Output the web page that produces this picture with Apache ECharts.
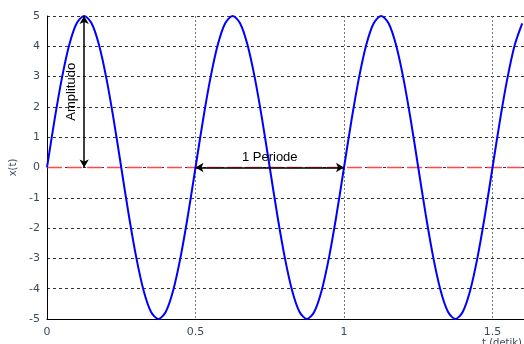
<!DOCTYPE html>
<html><head><meta charset="utf-8">
<script src="https://cdn.jsdelivr.net/npm/echarts@6/dist/echarts.min.js"></script>
<style>html,body{margin:0;padding:0;background:#fff}#c{width:524px;height:344px}</style>
</head><body><div id="c"></div>
<script>
// sample times (s), step 0.025
const times = [];
for (let k = 0; k <= 64; k++) times.push(+(k * 0.025).toFixed(3));
// x(t) values at each sample time
const xValues = [
  0, 1.55, 2.94, 4.05, 4.76, 5, 4.76, 4.05, 2.94, 1.55,
  0, -1.55, -2.94, -4.05, -4.76, -5, -4.76, -4.05, -2.94, -1.55,
  0, 1.55, 2.94, 4.05, 4.76, 5, 4.76, 4.05, 2.94, 1.55,
  0, -1.55, -2.94, -4.05, -4.76, -5, -4.76, -4.05, -2.94, -1.55,
  0, 1.55, 2.94, 4.05, 4.76, 5, 4.76, 4.05, 2.94, 1.55,
  0, -1.55, -2.94, -4.05, -4.76, -5, -4.76, -4.05, -2.94, -1.55,
  0, 1.55, 2.94, 4.05, 4.76
];
const xTicks = [0, 0.5, 1, 1.5];
const yTicks = [-5, -4, -3, -2, -1, 0, 1, 2, 3, 4, 5];
const tMin = 0, tMax = 1.606;
const zeroLine = [[tMin, 0], [tMax, 0]];
const amplitudeArrow = [[0.125, 0], [0.125, 5]];
const periodArrow = [[0.5, 0], [1, 0]];
const amplitudeText = 'Amplitudo';
const periodText = '1 Periode';

const chart = echarts.init(document.getElementById('c'), null, {renderer: 'canvas'});
const fontFam = 'DejaVu Sans, Verdana, sans-serif';
const annFont = 'Liberation Sans, Arial, sans-serif';
chart.setOption({
  animation: false,
  grid: {left: 47, top: 16, right: 0, bottom: 25, containLabel: false, outerBoundsMode: 'none'},
  xAxis: {
    type: 'value', min: tMin, max: tMax, interval: 0.5,
    name: 't (detik)', nameLocation: 'end', nameGap: -2,
    nameTextStyle: {color: '#3a4a5a', fontSize: 10, fontFamily: fontFam, align: 'right', verticalAlign: 'top', padding: [19, 0, 0, 0]},
    axisLine: {show: true, onZero: false, lineStyle: {color: '#000', width: 1}},
    axisTick: {show: false},
    axisLabel: {color: '#3a4a5a', fontSize: 11, fontFamily: fontFam, margin: 8, showMaxLabel: false,
      formatter: v => xTicks.includes(v) ? String(v) : ''},
    splitLine: {show: true, lineStyle: {color: '#777', type: [2, 2], width: 1}}
  },
  yAxis: {
    type: 'value', min: -5, max: 5, interval: 1,
    name: 'x(t)', nameLocation: 'middle', nameGap: 28, nameRotate: 90,
    nameTextStyle: {color: '#3a4a5a', fontSize: 10, fontFamily: fontFam},
    axisLine: {show: true, onZero: false, lineStyle: {color: '#000', width: 1}},
    axisTick: {show: false},
    axisLabel: {color: '#3a4a5a', fontSize: 11, fontFamily: fontFam, margin: 7,
      formatter: v => yTicks.includes(v) ? String(v) : ''},
    splitLine: {show: true, lineStyle: {color: '#333', type: [3, 3], width: 1}}
  },
  series: [
    {
      type: 'line', data: zeroLine, z: 2, showSymbol: false, silent: true,
      color: '#ff4a4a',
      lineStyle: {color: '#ff4a4a', type: [15, 5], width: 1.3}
    },
    {
      type: 'line', data: times.map((t, i) => [t, xValues[i]]),
      smooth: 0.3, showSymbol: false, clip: true,
      color: '#0000ff',
      lineStyle: {color: '#0000ff', width: 2},
      z: 3
    },
    {
      type: 'line', data: [], z: 4,
      markLine: {
        silent: true, animation: false,
        symbol: ['arrow', 'arrow'], symbolSize: [7, 8],
        lineStyle: {color: '#000', type: 'solid', width: 1.5},
        data: [
          [{coord: amplitudeArrow[0], label: {show: true, formatter: amplitudeText, position: 'middle', distance: 6, color: '#000', fontSize: 13, fontFamily: annFont}},
           {coord: amplitudeArrow[1]}],
          [{coord: periodArrow[0], label: {show: true, formatter: periodText, position: 'middle', distance: 4, color: '#000', fontSize: 13, fontFamily: annFont}},
           {coord: periodArrow[1]}]
        ]
      }
    }
  ]
});
</script></body></html>
